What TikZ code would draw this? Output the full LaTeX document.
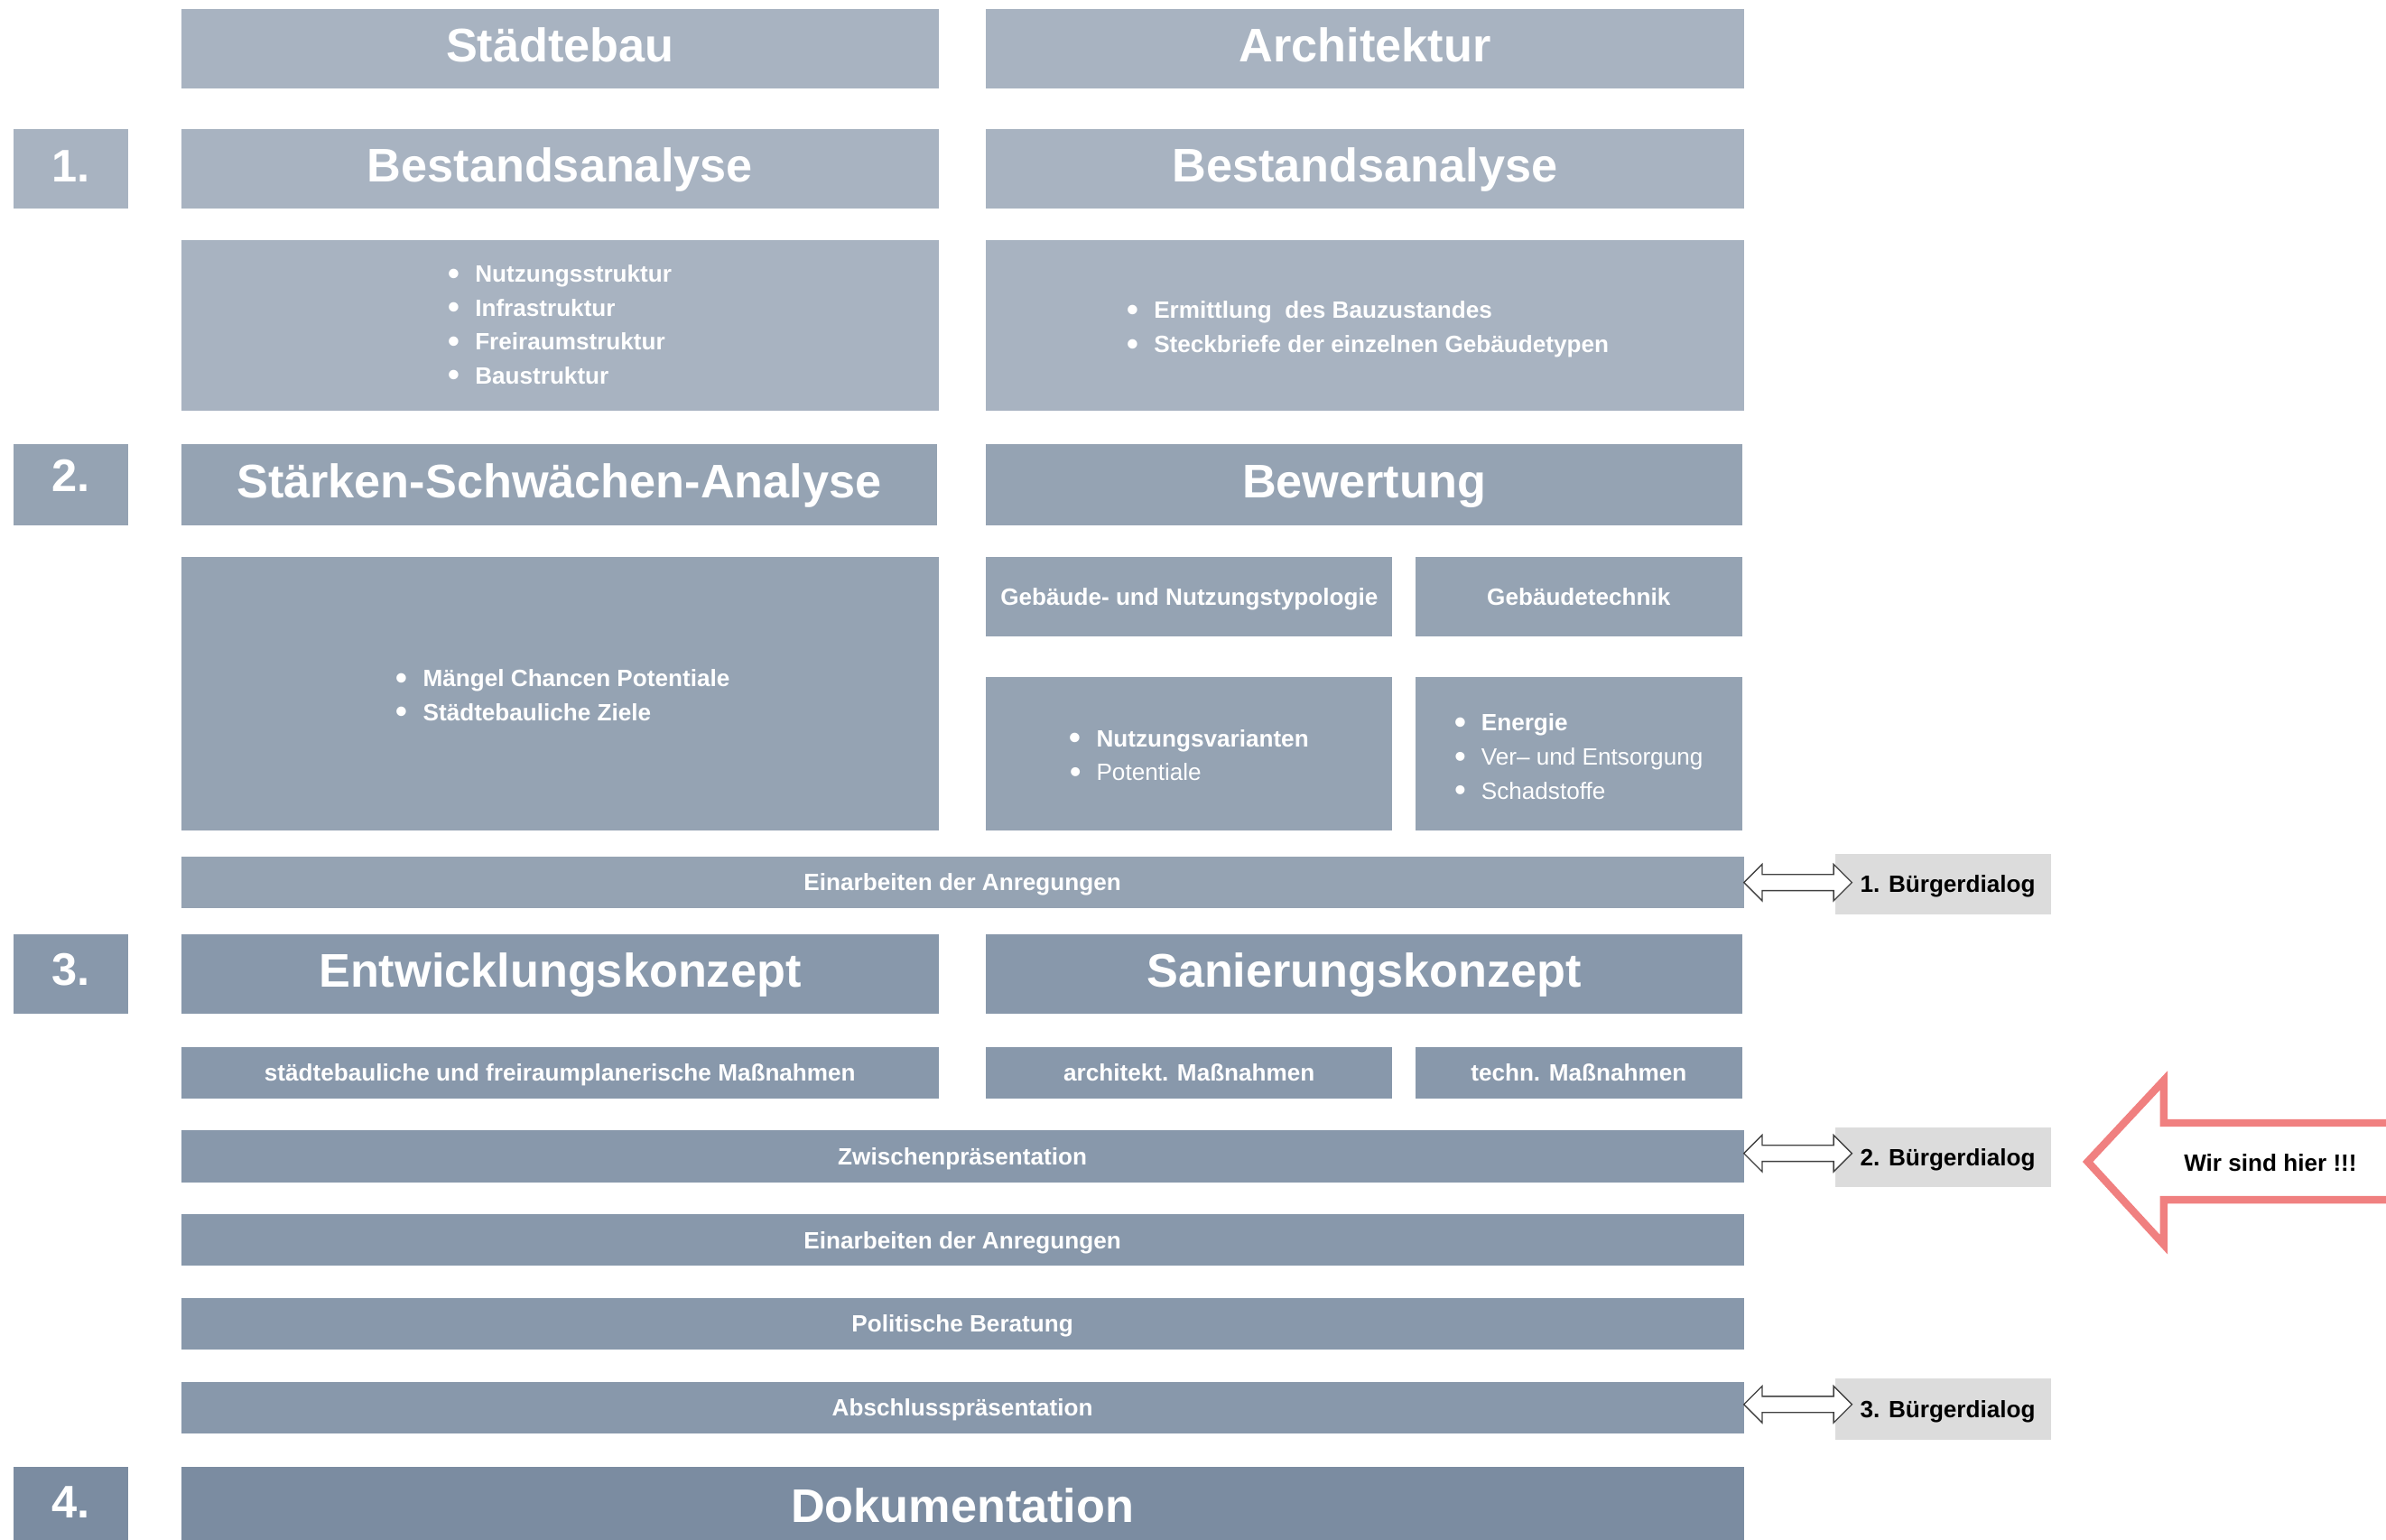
\documentclass[tikz,border=0pt]{standalone}
\usepackage{fontspec}
\usepackage{graphicx}
\setmainfont{Liberation Sans}
\usetikzlibrary{calc}
\definecolor{cA}{HTML}{A8B3C1}
\definecolor{cB}{HTML}{95A3B3}
\definecolor{cC}{HTML}{8898AB}
\definecolor{cD}{HTML}{7B8CA1}
\definecolor{cBD}{HTML}{DCDCDC}
\definecolor{cRed}{HTML}{F08080}
\newcommand{\bul}{\raisebox{-1.6pt}{\scalebox{1.4}{\textbullet}}\hspace{10pt}}
\begin{document}
\begin{tikzpicture}[x=1pt,y=-1pt,
  blk/.style={rectangle, inner sep=0pt, outer sep=0pt, text=white,
    font=\bfseries\fontsize{15.5}{22.3}\selectfont, align=left},
  bar/.style={blk, text height=11pt, text depth=0pt},
  head/.style={blk, font=\bfseries\fontsize{31}{36}\selectfont, text height=22.5pt, text depth=5.3pt},
  numbox/.style={rectangle, inner sep=0pt, outer sep=0pt, minimum width=75, minimum height=52},
  numtxt/.style={text=white, inner sep=0pt, font=\bfseries\fontsize{30}{34}\selectfont},
  bd/.style={rectangle, inner sep=0pt, outer sep=0pt, fill=cBD, text=black,
    minimum width=142, text height=11pt, text depth=0pt, font=\bfseries\fontsize{15.5}{18}\selectfont},
  darr/.style={draw=black!75, line width=0.8pt, fill=white, line join=miter},
]
\useasboundingbox (0,0) rectangle (1568,1012);

% ---- header row
\node[head, fill=cA, minimum width=498, minimum height=52] (stadt) at (368,32) {Städtebau};
\node[head, fill=cA, minimum width=498, minimum height=52] (arch) at (897,32) {Architektur};

% ---- 1.
\node[numbox, fill=cA] (n1) at (46.5,111) {};
\node[numtxt] (n1t) at ($(n1.center)+(0,-2)$) {1.};
\node[head, fill=cA, minimum width=498, minimum height=52] (best1) at (368,111) {Bestandsanalyse};
\node[head, fill=cA, minimum width=498, minimum height=52] (best2) at (897,111) {Bestandsanalyse};
\node[blk, fill=cA, minimum width=498, minimum height=112] (cont1) at (368,214)
  {\bul Nutzungsstruktur\\ \bul Infrastruktur\\ \bul Freiraumstruktur\\ \bul Baustruktur};
\node[blk, fill=cA, minimum width=498, minimum height=112] (cont2) at (897,214) {};
\node[blk] (cont2t) at (899,216.5)
  {\bul Ermittlung\ \ des Bauzustandes\\ \bul Steckbriefe der einzelnen Gebäudetypen};

% ---- 2.
\node[numbox, fill=cB, minimum height=53] (n2) at (46.5,318.5) {};
\node[numtxt] (n2t) at ($(n2.center)+(0,-6)$) {2.};
\node[head, fill=cB, minimum width=497, minimum height=53] (ssa) at (367.5,318.5) {Stärken-Schwächen-Analyse};
\node[head, fill=cB, minimum width=497, minimum height=53] (bew) at (896.5,318.5) {Bewertung};
\node[blk, fill=cB, minimum width=498, minimum height=180] (mang) at (368,456) {};
\node[blk] (mangt) at (370,457.5)
  {\bul Mängel Chancen Potentiale\\ \bul Städtebauliche Ziele};
\node[bar, fill=cB, minimum width=267, minimum height=52] (geb) at (781.5,392) {Gebäude- und Nutzungstypologie};
\node[bar, fill=cB, minimum width=215, minimum height=52] (gtech) at (1037.5,392) {Gebäudetechnik};
\node[blk, fill=cB, minimum width=267, minimum height=101] (nutz) at (781.5,495.5) {};
\node[blk] (nutzt) at (781.5,497)
  {\bul Nutzungsvarianten\\ {\mdseries\bul Potentiale}};
\node[blk, fill=cB, minimum width=215, minimum height=101] (energ) at (1037.5,495.5) {};
\node[blk] (energt) at (1037.5,498)
  {\bul Energie\\ {\mdseries\bul Ver– und Entsorgung}\\ {\mdseries\bul Schadstoffe}};

\node[bar, fill=cB, minimum width=1027, minimum height=34] (ein1) at (632.5,580) {Einarbeiten der Anregungen};
\node[bd, minimum height=40] (bd1) at (1277,581) {\hspace{6pt}1. Bürgerdialog};

% ---- 3.
\node[numbox, fill=cC] (n3) at (46.5,640) {};
\node[numtxt] (n3t) at ($(n3.center)+(0,-3)$) {3.};
\node[head, fill=cC, minimum width=498, minimum height=52] (entw) at (368,640) {Entwicklungskonzept};
\node[head, fill=cC, minimum width=497, minimum height=52] (san) at (896.5,640) {Sanierungskonzept};
\node[bar, fill=cC, minimum width=498, minimum height=34] (stm) at (368,705) {städtebauliche und freiraumplanerische Maßnahmen};
\node[bar, fill=cC, minimum width=267, minimum height=34] (arm) at (781.5,705) {architekt. Maßnahmen};
\node[bar, fill=cC, minimum width=215, minimum height=34] (tem) at (1037.5,705) {techn. Maßnahmen};

\node[bar, fill=cC, minimum width=1027, minimum height=34] (zw) at (632.5,760) {Zwischenpräsentation};
\node[bd, minimum height=39] (bd2) at (1277,760.5) {\hspace{6pt}2. Bürgerdialog};
\node[bar, fill=cC, minimum width=1027, minimum height=34] (ein2) at (632.5,815) {Einarbeiten der Anregungen};
\node[bar, fill=cC, minimum width=1027, minimum height=34] (pol) at (632.5,870) {Politische Beratung};
\node[bar, fill=cC, minimum width=1027, minimum height=34] (abs) at (632.5,925) {Abschlusspräsentation};
\node[bd, minimum height=40] (bd3) at (1277,926) {\hspace{6pt}3. Bürgerdialog};

% ---- 4.
\node[numbox, fill=cD, minimum height=56] (n4) at (46.5,992) {};
\node[numtxt] (n4t) at (46.5,987) {4.};
\node[head, fill=cD, minimum width=1027, minimum height=56] (dok) at (632.5,992) {Dokumentation};

% ---- double arrows
\draw[darr] (ein1.east) -- ++(12,-12) -- ++(0,6.7) -- ++(47,0) -- ++(0,-6.7) -- ++(12,12)
  -- ++(-12,12) -- ++(0,-6.7) -- ++(-47,0) -- ++(0,6.7) -- cycle;
\draw[darr] ($(zw.east)+(0,-2)$) -- ++(12,-12) -- ++(0,6.7) -- ++(47,0) -- ++(0,-6.7) -- ++(12,12)
  -- ++(-12,12) -- ++(0,-6.7) -- ++(-47,0) -- ++(0,6.7) -- cycle;
\draw[darr] ($(abs.east)+(0,-2)$) -- ++(12,-12) -- ++(0,6.7) -- ++(47,0) -- ++(0,-6.7) -- ++(12,12)
  -- ++(-12,12) -- ++(0,-6.7) -- ++(-47,0) -- ++(0,6.7) -- cycle;

% ---- red arrow
\draw[draw=cRed, line width=5pt, fill=white, line join=miter]
  (1372,763.5) -- (1422,710) -- (1422,738) -- (1600,738) -- (1600,788.5) -- (1422,788.5) -- (1422,818) -- cycle;
\node[text=black, inner sep=0pt, font=\bfseries\fontsize{15.5}{18}\selectfont] (wir) at (1492,764) {Wir sind hier !!!};
\end{tikzpicture}
\end{document}
